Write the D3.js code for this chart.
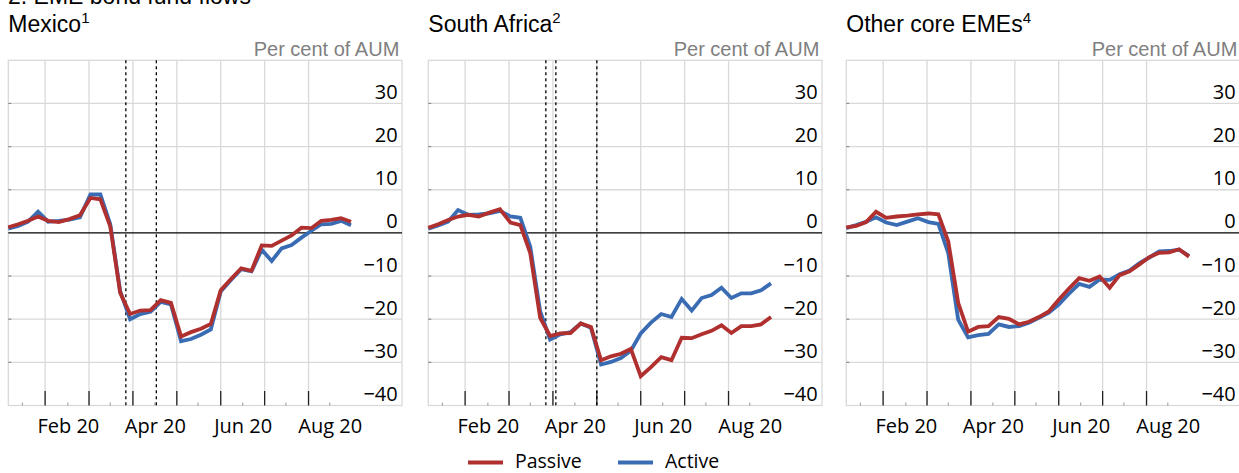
<!DOCTYPE html>
<html>
<head>
<meta charset="utf-8">
<script src="https://cdn.jsdelivr.net/npm/d3@7"></script>
<style>
  html, body { margin: 0; padding: 0; background: #fff; }
  svg { display: block; }
</style>
</head>
<body>
<svg id="chart" width="1239" height="473"></svg>
<script>
// Weekly observation dates (2020)
const weeks = [
  "2020-01-06","2020-01-13","2020-01-20","2020-01-27",
  "2020-02-03","2020-02-10","2020-02-17","2020-02-24",
  "2020-03-02","2020-03-09","2020-03-16","2020-03-23","2020-03-30",
  "2020-04-06","2020-04-13","2020-04-20","2020-04-27",
  "2020-05-04","2020-05-11","2020-05-18","2020-05-25",
  "2020-06-01","2020-06-08","2020-06-15","2020-06-22","2020-06-29",
  "2020-07-06","2020-07-13","2020-07-20","2020-07-27",
  "2020-08-03","2020-08-10","2020-08-17","2020-08-24","2020-08-31"
];

// Cumulative flows, per cent of AUM
const mexicoPassive = [1.3, 2.0, 2.8, 3.8, 2.8, 2.5, 3.2, 4.1, 8.1, 7.8, 1.5, -13.9, -18.8, -18.0, -17.9, -15.6, -16.2, -24.0, -23.0, -22.2, -21.1, -13.3, -10.7, -8.2, -8.8, -2.9, -3.0, -1.8, -0.6, 1.2, 1.1, 2.8, 3.0, 3.4, 2.6];
const mexicoActive  = [1.0, 1.6, 2.6, 4.9, 2.6, 2.8, 3.1, 3.6, 8.9, 8.9, 2.0, -13.5, -20.0, -18.8, -18.3, -16.0, -16.6, -25.1, -24.6, -23.6, -22.4, -13.6, -10.9, -8.4, -8.9, -3.9, -6.5, -3.6, -2.8, -1.1, 0.5, 2.0, 2.1, 2.8, 1.8];

const saPassive = [1.2, 2.0, 3.0, 3.8, 4.2, 3.8, 4.7, 5.5, 2.4, 1.8, -4.7, -19.7, -23.9, -23.3, -23.2, -21.0, -21.8, -29.5, -28.6, -28.0, -26.9, -33.2, -31.1, -28.8, -29.5, -24.3, -24.4, -23.5, -22.7, -21.4, -23.2, -21.6, -21.6, -21.2, -19.5];
const saActive  = [1.0, 1.7, 2.6, 5.3, 4.2, 4.3, 4.5, 5.1, 3.8, 3.5, -3.2, -18.2, -24.7, -23.5, -23.0, -21.0, -22.0, -30.5, -29.9, -29.0, -27.3, -23.3, -20.8, -18.8, -19.5, -15.3, -18.0, -15.1, -14.4, -12.7, -15.1, -14.0, -14.0, -13.3, -11.7];

const otherPassive = [1.3, 1.6, 2.5, 4.9, 3.5, 3.8, 4.0, 4.3, 4.5, 4.3, -2.0, -16.2, -22.9, -21.8, -21.6, -19.5, -19.9, -21.2, -20.6, -19.5, -18.2, -15.5, -12.9, -10.5, -11.1, -10.1, -12.7, -9.8, -8.9, -7.3, -5.6, -4.6, -4.5, -3.8, -5.5];
const otherActive  = [1.1, 1.8, 2.6, 3.6, 2.4, 1.8, 2.6, 3.4, 2.5, 2.1, -4.7, -20.1, -24.2, -23.7, -23.4, -21.2, -21.8, -21.6, -20.8, -19.7, -18.5, -16.6, -14.1, -11.8, -12.5, -10.8, -10.9, -9.6, -8.7, -7.0, -5.7, -4.3, -4.2, -3.9, -5.3];

// Event markers (rating actions etc.)
const mexicoEvents = ["2020-03-27", "2020-04-17"];
const saEvents = ["2020-03-27", "2020-04-03", "2020-05-01"];
const otherEvents = [];

// Axis settings
const xStart = "2020-01-06";
const xEnd = "2020-10-05";
const monthLines = ["2020-02-01","2020-03-01","2020-04-01","2020-05-01","2020-06-01","2020-07-01","2020-08-01"];
const midMonths = ["2020-01-16","2020-02-16","2020-03-16","2020-04-16","2020-05-16","2020-06-16","2020-07-16","2020-08-16"];
const xLabelDates = ["2020-02-16","2020-04-16","2020-06-16","2020-08-16"];
const xLabels = ["Feb 20", "Apr 20", "Jun 20", "Aug 20"];
const yTicks = [-40, -30, -20, -10, 0, 10, 20, 30];
const yGrid = [-30, -20, -10, 10, 20, 30];
const yDomain = [-40, 40];

const panelTitles = ["Mexico", "South Africa", "Other core EMEs"];
const panelNotes = ["1", "2", "4"];
const seriesNames = ["Passive", "Active"];

const RED = "#b0302f";
const BLUE = "#3a6cb4";

const parse = d3.timeParse("%Y-%m-%d");

// Month-uniform position: every calendar month gets the same width
function monthPos(s) {
  const d = parse(s);
  const dim = new Date(d.getFullYear(), d.getMonth() + 1, 0).getDate();
  return (d.getFullYear() - 2020) * 12 + d.getMonth() + (d.getDate() - 1) / dim;
}

const svg = d3.select("#chart");

const panelLeft = [8.3, 428.3, 846.3];
const plotW = 393.7;
const plotTop = 60.3;
const plotBottom = 405.5;

const panels = [
  { title: panelTitles[0], note: panelNotes[0], passive: mexicoPassive, active: mexicoActive, events: mexicoEvents },
  { title: panelTitles[1], note: panelNotes[1], passive: saPassive, active: saActive, events: saEvents },
  { title: panelTitles[2], note: panelNotes[2], passive: otherPassive, active: otherActive, events: otherEvents }
];

const x = d3.scaleLinear().domain([monthPos(xStart), monthPos(xEnd)]).range([0, plotW]);
const y = d3.scaleLinear().domain(yDomain).range([plotBottom - plotTop, 0]);
const h = plotBottom - plotTop;

// Overall chart heading (partly above the top edge)
svg.append("text")
  .attr("x", 8).attr("y", 3.5)
  .attr("font-family", "Liberation Sans, Arial, sans-serif")
  .attr("font-size", 23)
  .attr("fill", "#000")
  .text("2. EME bond fund flows");

panels.forEach((p, k) => {
  const left = panelLeft[k];
  const g = svg.append("g").attr("transform", `translate(${left},${plotTop})`);

  // Panel title with footnote marker
  const t = svg.append("text")
    .attr("x", left).attr("y", 32)
    .attr("font-family", "Liberation Sans, Arial, sans-serif")
    .attr("font-size", 23)
    .attr("fill", "#000");
  t.append("tspan").text(p.title);
  t.append("tspan").attr("font-size", 15).attr("dy", -9).text(p.note);

  // Unit label
  svg.append("text")
    .attr("x", left + 391).attr("y", 55.5)
    .attr("text-anchor", "end")
    .attr("font-family", "Liberation Sans, Arial, sans-serif")
    .attr("font-size", 20)
    .attr("fill", "#7f7f7f")
    .text("Per cent of AUM");

  // Horizontal grid
  g.append("g").selectAll("line").data(yGrid).join("line")
    .attr("x1", 0).attr("x2", plotW)
    .attr("y1", d => y(d)).attr("y2", d => y(d))
    .attr("stroke", "#d9d9d9").attr("stroke-width", 1.3);

  // Vertical grid at month starts
  g.append("g").selectAll("line").data(monthLines).join("line")
    .attr("x1", d => x(monthPos(d))).attr("x2", d => x(monthPos(d)))
    .attr("y1", 0).attr("y2", h)
    .attr("stroke", "#d9d9d9").attr("stroke-width", 1.3);

  // Frame
  g.append("rect")
    .attr("x", 0).attr("y", 0).attr("width", plotW).attr("height", h)
    .attr("fill", "none").attr("stroke", "#d9d9d9").attr("stroke-width", 1.3);

  // Small ticks on the left edge
  g.append("g").selectAll("line").data(yGrid).join("line")
    .attr("x1", 0).attr("x2", 3)
    .attr("y1", d => y(d)).attr("y2", d => y(d))
    .attr("stroke", "#8c8c8c").attr("stroke-width", 1.2);

  // Major ticks at month starts, rising from the bottom
  g.append("g").selectAll("line").data(monthLines).join("line")
    .attr("x1", d => x(monthPos(d))).attr("x2", d => x(monthPos(d)))
    .attr("y1", h).attr("y2", h - 14.5)
    .attr("stroke", "#222").attr("stroke-width", 1.3);

  // Minor ticks mid-month
  g.append("g").selectAll("line").data(midMonths).join("line")
    .attr("x1", d => x(monthPos(d))).attr("x2", d => x(monthPos(d)))
    .attr("y1", h).attr("y2", h - 3)
    .attr("stroke", "#a6a6a6").attr("stroke-width", 1.2);

  // Zero line
  g.append("line")
    .attr("x1", 0).attr("x2", plotW)
    .attr("y1", y(0)).attr("y2", y(0))
    .attr("stroke", "#000").attr("stroke-width", 1.3);

  // Event markers
  g.append("g").selectAll("line").data(p.events).join("line")
    .attr("x1", d => x(monthPos(d))).attr("x2", d => x(monthPos(d)))
    .attr("y1", 0).attr("y2", h)
    .attr("stroke", "#000").attr("stroke-width", 1.3)
    .attr("stroke-dasharray", "3,3");

  // Y axis labels inside the plot, right-aligned
  const yAxis = d3.axisLeft(y).tickValues(yTicks).tickSize(0).tickPadding(0);
  const ya = g.append("g").attr("transform", `translate(${389.4},0)`).call(yAxis);
  ya.select(".domain").remove();
  ya.selectAll("text")
    .attr("dy", -5)
    .attr("font-family", "Open Sans, sans-serif")
    .attr("font-size", 20)
    .attr("fill", "#000");

  // X axis labels centred within months
  const xAxis = d3.axisBottom(x)
    .tickValues(xLabelDates.map(monthPos))
    .tickFormat((d, i) => xLabels[i])
    .tickSize(0).tickPadding(0);
  const xa = g.append("g").attr("transform", `translate(0,${h})`).call(xAxis);
  xa.select(".domain").remove();
  xa.selectAll("text")
    .attr("y", 27).attr("dy", 0)
    .attr("font-family", "Open Sans, sans-serif")
    .attr("font-size", 20)
    .attr("fill", "#000");

  // Series lines
  const line = d3.line()
    .x((d, i) => x(monthPos(weeks[i])))
    .y(d => y(d));

  g.append("path").datum(p.active)
    .attr("d", line).attr("fill", "none")
    .attr("stroke", BLUE).attr("stroke-width", 3.8);
  g.append("path").datum(p.passive)
    .attr("d", line).attr("fill", "none")
    .attr("stroke", RED).attr("stroke-width", 3.8);
});

// Legend
const legend = svg.append("g");
const legendItems = [
  { name: seriesNames[0], color: RED, x: 468 },
  { name: seriesNames[1], color: BLUE, x: 618 }
];
legendItems.forEach(it => {
  legend.append("line")
    .attr("x1", it.x).attr("x2", it.x + 35)
    .attr("y1", 462.5).attr("y2", 462.5)
    .attr("stroke", it.color).attr("stroke-width", 4);
  legend.append("text")
    .attr("x", it.x + 47).attr("y", 467.5)
    .attr("font-family", "Open Sans, sans-serif")
    .attr("font-size", 19.5)
    .attr("fill", "#000")
    .text(it.name);
});
</script>
</body>
</html>
